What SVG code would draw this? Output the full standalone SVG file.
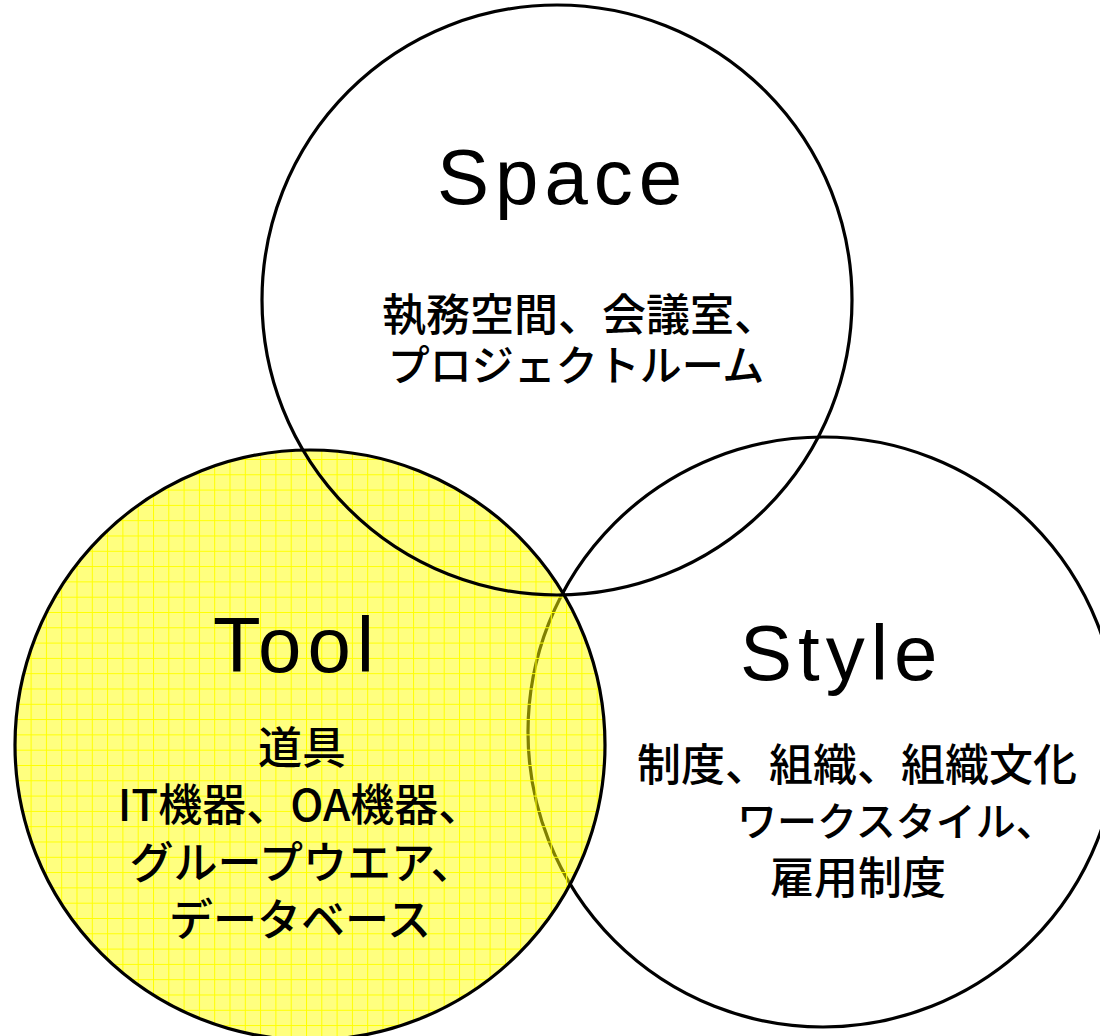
<svg xmlns="http://www.w3.org/2000/svg" width="1100" height="1036" viewBox="0 0 1100 1036">
<style>
.ring{fill:none;stroke:#000;stroke-width:3.2}
.title{font-family:"Liberation Sans",Arial,sans-serif;font-size:78px;letter-spacing:6px;fill:#000}
.jp{font-family:"Noto Sans CJK JP","Liberation Sans",sans-serif;font-size:44px;fill:#000;font-weight:500}
.k42{font-size:42px}
.k40{font-size:40px}
</style>
<defs>
<pattern id="grid" patternUnits="userSpaceOnUse" width="15.3" height="15.3" x="0" y="0">
<rect width="15.3" height="15.3" fill="#FFFF00" fill-opacity="0.5"/>
<path d="M0 0.5H15.3M0.5 0V15.3" stroke="#FFFF00" stroke-width="1" fill="none"/>
</pattern>
</defs>
<rect width="1100" height="1036" fill="#fff"/>
<g id="style">
<circle class="ring" cx="823" cy="732" r="295"/>
<text class="title" x="740" y="680">Style</text>
<text class="jp" x="857" y="781" text-anchor="middle">制度、組織、組織文化</text>
<text class="jp k40" x="737" y="836">ワークスタイル、</text>
<text class="jp" x="858" y="894" text-anchor="middle">雇用制度</text>
</g>
<g id="tool">
<circle cx="310" cy="745" r="295" fill="url(#grid)" stroke="#000" stroke-width="3.2"/>
<text class="title" x="213" y="672">Tool</text>
<text class="jp" x="302" y="764" text-anchor="middle">道具</text>
<text class="jp" x="300" y="821" text-anchor="middle">IT機器、OA機器、</text>
<text class="jp" x="302" y="879" text-anchor="middle">グループウエア、</text>
<text class="jp" x="300" y="936" text-anchor="middle">データベース</text>
</g>
<g id="space">
<circle class="ring" cx="557" cy="300" r="295"/>
<text class="title" x="437" y="204">Space</text>
<text class="jp" x="580" y="331" text-anchor="middle">執務空間、会議室、</text>
<text class="jp k42" x="576" y="381" text-anchor="middle">プロジェクトルーム</text>
</g>
<g id="connectors"></g>
</svg>
